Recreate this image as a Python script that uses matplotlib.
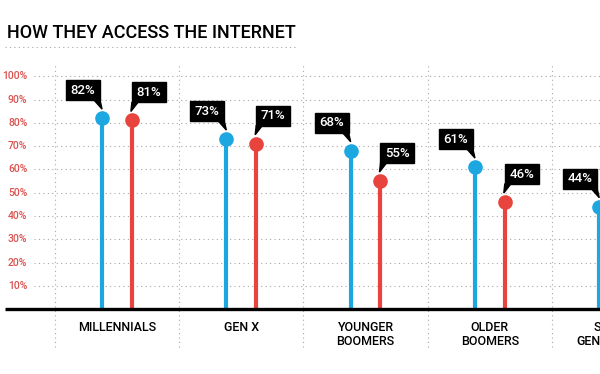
import numpy as np
import matplotlib
matplotlib.use("Agg")
import matplotlib.pyplot as plt
from matplotlib.patches import Rectangle, Polygon

# data
groups = ["MILLENNIALS", "GEN X", "YOUNGER\nBOOMERS", "OLDER\nBOOMERS", "SILENT\nGENERATION"]
blue_vals = [82, 73, 68, 61, 44]
red_vals = [81, 71, 55, 46, np.nan]   # last one is cut off in the picture
yticks = [10, 20, 30, 40, 50, 60, 70, 80, 90, 100]

BLUE = "#1ca7e0"
RED = "#e8433d"
TICK_RED = "#d9534f"
GRID = "#a8a8a8"

plt.rcParams['font.family'] = ['Roboto', 'DejaVu Sans']
plt.rcParams['font.weight'] = 'medium'

fig = plt.figure(figsize=(6, 3.74), dpi=100)
ax = fig.add_axes([0, 0, 1, 1])
ax.set_xlim(-0.941, 3.886)
ax.set_ylim(-27.8, 132.7)
ax.axis('off')

x = np.arange(len(groups))
off = 0.12

# dotted grid
for t in yticks:
    ax.plot([-0.67, 3.886], [t, t], color=GRID, lw=0.8, ls=(0, (1, 3)), zorder=1)
    ax.text(-0.72, t, f"{t}%", color=TICK_RED, fontsize=7.5, ha='right', va='center')
for b in np.arange(-0.5, 4.0, 1.0):
    ax.plot([b, b], [-16, 105], color=GRID, lw=0.8, ls=(0, (1, 3)), zorder=1)

# baseline
ax.plot([-0.9, 3.886], [0, 0], color='black', lw=2.4, zorder=4, solid_capstyle='butt')

# stems and dots
ax.vlines(x - off, 0, blue_vals, color=BLUE, lw=3, zorder=3)
ax.vlines(x + off, 0, red_vals, color=RED, lw=3, zorder=3)
ax.plot(x - off, blue_vals, 'o', color=BLUE, ms=9.5, zorder=5)
ax.plot(x + off, red_vals, 'o', color=RED, ms=9.5, zorder=5)

# category labels
for xi, g in zip(x, groups):
    ax.text(xi, -5.0, g, ha='center', va='top', fontsize=9, linespacing=1.15)


def callout(xv, v, side):
    if np.isnan(v):
        return
    px, py = ax.transData.transform((xv, v))
    w, h = 34, 20
    bottom = py + 18
    if side == 'left':
        x0 = px - 2 - w
        tri = [(x0 + w - 6, bottom), (x0 + w, bottom), (px, py + 9)]
    else:
        x0 = px
        tri = [(x0, bottom), (x0 + 6, bottom), (px - 1, py + 9)]
    fig.patches.append(Rectangle((x0, bottom), w, h, color='black',
                                 transform=None, figure=fig))
    fig.patches.append(Polygon(tri, closed=True, color='black',
                               transform=None, figure=fig))
    fig.text((x0 + w / 2) / fig.bbox.width, (bottom + h / 2) / fig.bbox.height,
             f"{int(v)}%", color='white', fontsize=9.5, ha='center', va='center')


for xi, bv, rv in zip(x, blue_vals, red_vals):
    callout(xi - off, bv, 'left')
    callout(xi + off, rv, 'right')

# title and its dotted rule
fig.text(7 / 600, 1 - 38 / 374, "HOW THEY ACCESS THE INTERNET", fontsize=13,
         ha='left', va='baseline')
fig.lines.append(plt.Line2D([5 / 600, 297 / 600], [1 - 47 / 374, 1 - 47 / 374],
                            color=GRID, lw=0.8, ls=(0, (1, 3)),
                            transform=fig.transFigure))

fig.savefig("out.png", dpi=100)
